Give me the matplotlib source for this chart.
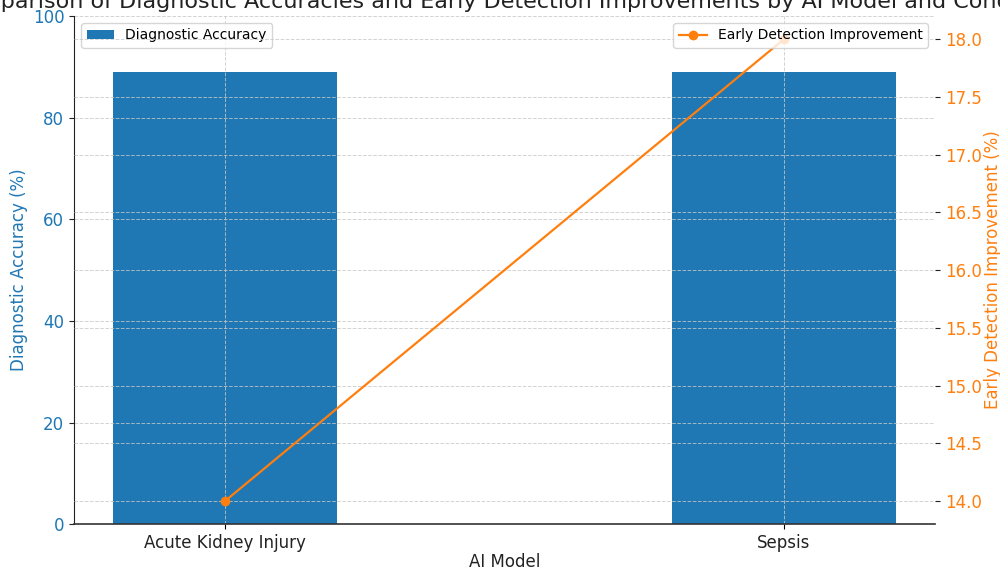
import matplotlib.pyplot as plt

models = ["Acute Kidney Injury", "Sepsis"]
accuracy = [89, 89]
early_detection = [14.0, 18.0]

bar_color = "#1f77b4"
line_color = "#ff7f0e"

fig = plt.figure(figsize=(10, 5.71), dpi=100)
ax = fig.add_axes([0.074, 0.082, 0.861, 0.890])

ax.bar(models, accuracy, width=0.4, color=bar_color, label="Diagnostic Accuracy")
ax.set_ylim(0, 100)
ax.set_xlabel("AI Model", fontsize=12, color="#222222", labelpad=1)
ax.set_ylabel("Diagnostic Accuracy (%)", fontsize=12, color=bar_color, labelpad=3)
ax.tick_params(axis="y", labelcolor=bar_color, labelsize=12, color="#222222")
ax.tick_params(axis="x", labelsize=12, labelcolor="#222222")
ax.grid(True, linestyle="--", color="#c8c8c8", linewidth=0.7, alpha=0.8)
for side in ["top", "right"]:
    ax.spines[side].set_visible(False)
ax.spines["left"].set_color("#222222")
ax.spines["bottom"].set_color("#333333")
ax.spines["bottom"].set_linewidth(1.2)

ax2 = ax.twinx()
ax2.plot(models, early_detection, color=line_color, marker="o", linewidth=1.6,
         markersize=6, label="Early Detection Improvement")
ax2.set_ylabel("Early Detection Improvement (%)", fontsize=12, color=line_color, labelpad=2)
ax2.tick_params(axis="y", labelcolor=line_color, labelsize=12, color="#222222")
ax2.grid(True, linestyle="--", color="#c8c8c8", linewidth=0.7, alpha=0.8)
for side in ["top", "right", "left", "bottom"]:
    ax2.spines[side].set_visible(False)

ax.legend(loc="upper left", fontsize=10)
ax2.legend(loc="upper right", fontsize=10)

ax.set_title("Comparison of Diagnostic Accuracies and Early Detection Improvements by AI Model and Condition",
             fontsize=16, color="#222222")

fig.savefig("out.png", dpi=100)
